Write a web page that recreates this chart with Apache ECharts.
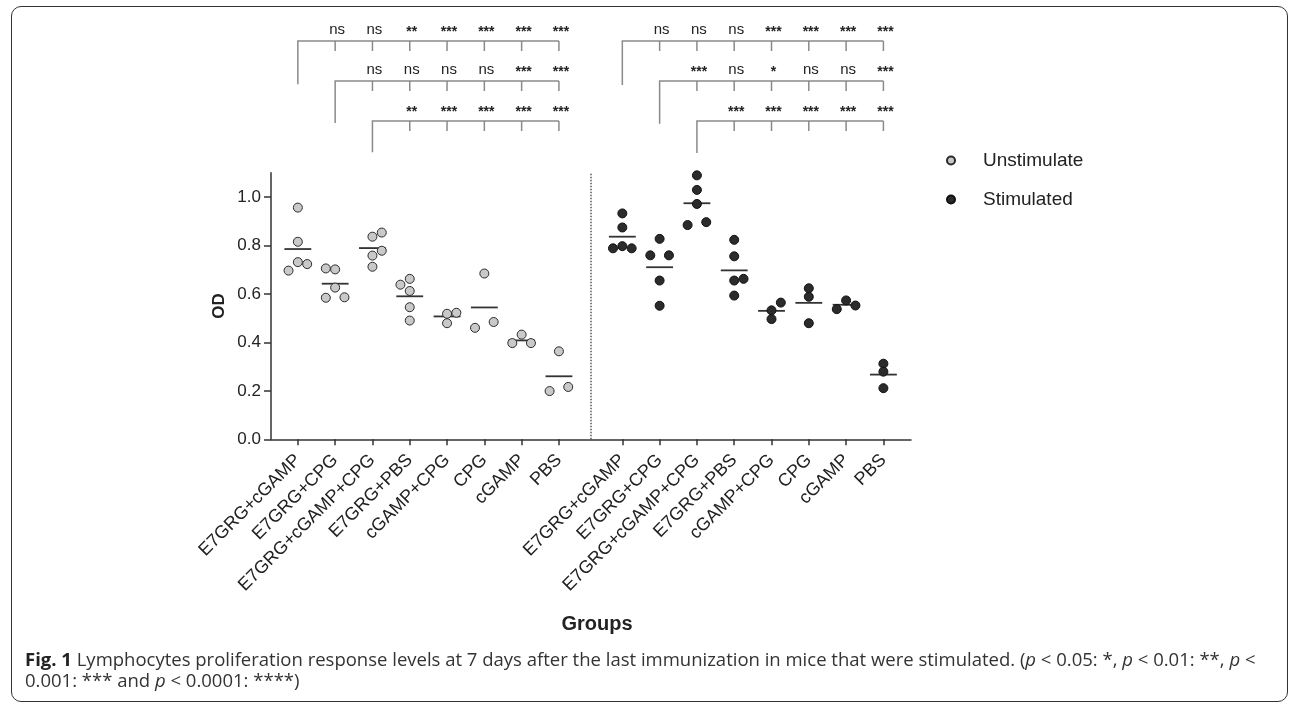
<!DOCTYPE html>
<html>
<head>
  <meta charset="utf-8" />
  <title>Lymphocytes proliferation response</title>
  <script src="https://cdn.jsdelivr.net/npm/echarts@6/dist/echarts.min.js"></script>
  <style>
    body { margin: 0; background: #fff; }
    #frame { position: absolute; left: 11px; top: 6px; width: 1275px; height: 694px;
             border: 1.5px solid #333; border-radius: 10px; pointer-events: none; }
  </style>
</head>
<body>
  <div id="chart" style="width:1292px;height:706px;"></div>
  <div id="frame"></div>
  <script type="text/javascript">

    // Group names (same order for both halves)
    let groups = ['E7GRG+cGAMP', 'E7GRG+CPG', 'E7GRG+cGAMP+CPG', 'E7GRG+PBS',
      'cGAMP+CPG', 'CPG', 'cGAMP', 'PBS'];

    // OD values
    let unstimValues = [
      [0.956, 0.815, 0.731, 0.723, 0.696],
      [0.705, 0.701, 0.626, 0.584, 0.586],
      [0.853, 0.836, 0.778, 0.758, 0.712],
      [0.662, 0.638, 0.612, 0.545, 0.490],
      [0.518, 0.522, 0.479],
      [0.684, 0.460, 0.484],
      [0.432, 0.397, 0.397],
      [0.363, 0.199, 0.216]
    ];
    let stimValues = [
      [0.932, 0.874, 0.797, 0.788, 0.788],
      [0.827, 0.759, 0.759, 0.655, 0.551],
      [1.089, 1.029, 0.971, 0.884, 0.896],
      [0.823, 0.755, 0.655, 0.662, 0.593],
      [0.564, 0.532, 0.496],
      [0.623, 0.588, 0.479],
      [0.573, 0.537, 0.552],
      [0.312, 0.279, 0.211]
    ];
    let unstimMeans = [0.785, 0.642, 0.789, 0.590, 0.507, 0.544, 0.408, 0.260];
    let stimMeans = [0.836, 0.710, 0.974, 0.697, 0.530, 0.563, 0.555, 0.267];

    // significance labels, one row per bracket (group 1, 2, 3 vs the rest)
    let sigUnstim = [
      ['ns', 'ns', '**', '***', '***', '***', '***'],
      ['ns', 'ns', 'ns', 'ns', '***', '***'],
      ['**', '***', '***', '***', '***']
    ];
    let sigStim = [
      ['ns', 'ns', 'ns', '***', '***', '***', '***'],
      ['***', 'ns', '*', 'ns', 'ns', '***'],
      ['***', '***', '***', '***', '***']
    ];

    let yTicks = [0, 0.2, 0.4, 0.6, 0.8, 1.0];

    // layout: column offsets of the dots (-1 left, 0 centre, 1 right)
    let unstimJitter = [[0, 0, 0, 1, -1], [-1, 0, 0, -1, 1], [1, 0, 1, 0, 0], [0, -1, 0, 0, 0],
      [0, 1, 0], [0, -1, 1], [0, -1, 1], [0, -1, 1]];
    let stimJitter = [[0, 0, 0, -1, 1], [0, -1, 1, 0, 0], [0, 0, 0, -1, 1], [0, 0, 0, 1, 0],
      [1, 0, 0], [0, 0, 0], [0, -1, 1], [0, 0, 0]];
    let rightStart = 8.7, jitterStep = 0.25, meanHalf = 0.36, divider = 7.85;
    let xMin = -0.72, xMax = 16.44;
    let legEnds = [[1.08, 2.05, 2.78], [1.1, 2.07, 2.8]];
    let tickDepth = 0.25;
    let font = '"Liberation Sans", Arial, sans-serif';

    function pos(side, i) { return side === 0 ? i : rightStart + i; }

    let tickPositions = [];
    let labelAt = {};
    [0, 1].forEach(function (side) {
      groups.forEach(function (g, i) {
        tickPositions.push(pos(side, i));
        labelAt[pos(side, i).toFixed(2)] = g;
      });
    });

    function dots(side, values, jitter) {
      let out = [];
      values.forEach(function (vals, i) {
        vals.forEach(function (v, k) {
          out.push([pos(side, i) + jitter[i][k] * jitterStep, v]);
        });
      });
      return out;
    }

    let meanData = [];
    unstimMeans.forEach(function (m, i) { meanData.push([pos(0, i), m]); });
    stimMeans.forEach(function (m, i) { meanData.push([pos(1, i), m]); });

    let bracketList = [];
    [sigUnstim, sigStim].forEach(function (sig, side) {
      sig.forEach(function (labels, level) {
        let targets = [];
        for (let t = level + 1; t < groups.length; t++) targets.push(pos(side, t));
        bracketList.push({
          from: pos(side, level), level: level, legEnd: legEnds[side][level],
          targets: targets, labels: labels
        });
      });
    });

    var chart = echarts.init(document.getElementById('chart'));

    var option = {
      animation: false,
      title: {
        left: 20,
        top: 645,
        text: '{b|Fig. 1} Lymphocytes proliferation response levels at 7 days after the last immunization in mice that were stimulated. ({i|p} < 0.05: *, {i|p} < 0.01: **, {i|p} <\n0.001: *** and {i|p} < 0.0001: ****)',
        textStyle: {
          fontFamily: '"Open Sans", sans-serif', fontSize: 18.5, fontWeight: 'normal',
          color: '#333', lineHeight: 21,
          rich: {
            b: { fontFamily: '"Open Sans", sans-serif', fontSize: 18.5, fontWeight: 'bold', color: '#222', lineHeight: 21 },
            i: { fontFamily: '"Open Sans", sans-serif', fontSize: 18.5, fontStyle: 'italic', color: '#333', lineHeight: 21 }
          }
        }
      },
      legend: {
        orient: 'vertical',
        left: 941,
        top: 146,
        itemWidth: 54,
        itemHeight: 8,
        itemGap: 20,
        icon: 'circle',
        data: ['Unstimulate', 'Stimulated'],
        textStyle: { fontFamily: font, fontSize: 19, color: '#222', lineHeight: 16 }
      },
      grid: [
        { left: 271, right: 381, top: 172.7, bottom: 266.7 },
        { left: 271, right: 381, top: 21, height: 140 }
      ],
      xAxis: [
        {
          type: 'value', min: xMin, max: xMax, gridIndex: 0,
          axisLine: { onZero: false, lineStyle: { color: '#333', width: 1.5 } },
          axisTick: { customValues: tickPositions, length: 6, lineStyle: { color: '#333', width: 1.5 } },
          axisLabel: {
            customValues: tickPositions, rotate: 45, margin: 18,
            fontFamily: font, fontSize: 18, color: '#222',
            formatter: function (v) { return labelAt[v.toFixed(2)] || ''; }
          },
          splitLine: { show: false },
          name: 'Groups', nameLocation: 'middle', nameGap: 175,
          nameTextStyle: { fontFamily: font, fontSize: 20, fontWeight: 'bold', color: '#222', padding: [0, 0, 0, 12] }
        },
        { type: 'value', min: xMin, max: xMax, gridIndex: 1, show: false }
      ],
      yAxis: [
        {
          type: 'value', min: 0, max: 1.1, gridIndex: 0,
          axisLine: { show: true, onZero: false, lineStyle: { color: '#333', width: 1.5 } },
          axisTick: { show: true, customValues: yTicks, length: 7, lineStyle: { color: '#333', width: 1.5 } },
          axisLabel: {
            customValues: yTicks, margin: 10, fontFamily: font, fontSize: 17, color: '#222',
            formatter: function (v) { return v.toFixed(1); }
          },
          splitLine: { show: false },
          name: 'OD', nameLocation: 'middle', nameGap: 43,
          nameTextStyle: { fontFamily: font, fontSize: 17, fontWeight: 'bold', color: '#222' }
        },
        { type: 'value', min: -0.5, max: 3, inverse: true, gridIndex: 1, show: false }
      ],
      series: [
        {
          name: 'mean',
          type: 'custom',
          xAxisIndex: 0, yAxisIndex: 0,
          z: 1,
          data: meanData,
          renderItem: function (params, api) {
            let a = api.coord([api.value(0) - meanHalf, api.value(1)]);
            let b = api.coord([api.value(0) + meanHalf, api.value(1)]);
            return {
              type: 'line',
              shape: { x1: a[0], y1: a[1], x2: b[0], y2: b[1] },
              style: { stroke: '#333', lineWidth: 1.8 }
            };
          }
        },
        {
          name: 'Unstimulate',
          type: 'scatter',
          xAxisIndex: 0, yAxisIndex: 0,
          z: 3,
          symbolSize: 9,
          itemStyle: { color: '#c9c9c9', borderColor: '#2a2a2a', borderWidth: 1, opacity: 1 },
          data: dots(0, unstimValues, unstimJitter),
          markLine: {
            silent: true,
            symbol: 'none',
            label: { show: false },
            lineStyle: { type: 'dotted', color: '#555', width: 1.5 },
            data: [{ xAxis: divider }]
          }
        },
        {
          name: 'Stimulated',
          type: 'scatter',
          xAxisIndex: 0, yAxisIndex: 0,
          z: 3,
          symbolSize: 9,
          itemStyle: { color: '#2b2b2b', borderColor: '#111', borderWidth: 1, opacity: 1 },
          data: dots(1, stimValues, stimJitter)
        },
        {
          name: 'brackets',
          type: 'custom',
          xAxisIndex: 1, yAxisIndex: 1,
          data: bracketList.map(function (b) { return [b.from, b.level]; }),
          renderItem: function (params, api) {
            let b = bracketList[params.dataIndex];
            let top = api.coord([b.from, b.level]);
            let leg = api.coord([b.from, b.legEnd]);
            let right = api.coord([b.targets[b.targets.length - 1], b.level]);
            let children = [{
              type: 'polyline',
              shape: { points: [leg, top, right] },
              style: { stroke: '#8a8a8a', lineWidth: 1.5, fill: null }
            }];
            b.targets.forEach(function (t, k) {
              let p = api.coord([t, b.level]);
              let q = api.coord([t, b.level + tickDepth]);
              children.push({
                type: 'line',
                shape: { x1: p[0], y1: p[1], x2: q[0], y2: q[1] },
                style: { stroke: '#8a8a8a', lineWidth: 1.5 }
              });
              let star = b.labels[k] !== 'ns';
              children.push({
                type: 'text',
                x: p[0] + 2, y: p[1] - (star ? 9 : 11),
                style: {
                  text: b.labels[k], align: 'center', verticalAlign: 'middle',
                  fontFamily: font, fontSize: star ? 14 : 15, fontWeight: star ? 'bold' : 'normal',
                  fill: '#222'
                }
              });
            });
            return { type: 'group', children: children };
          }
        }
      ]
    };

    chart.setOption(option);
  </script>
</body>
</html>
